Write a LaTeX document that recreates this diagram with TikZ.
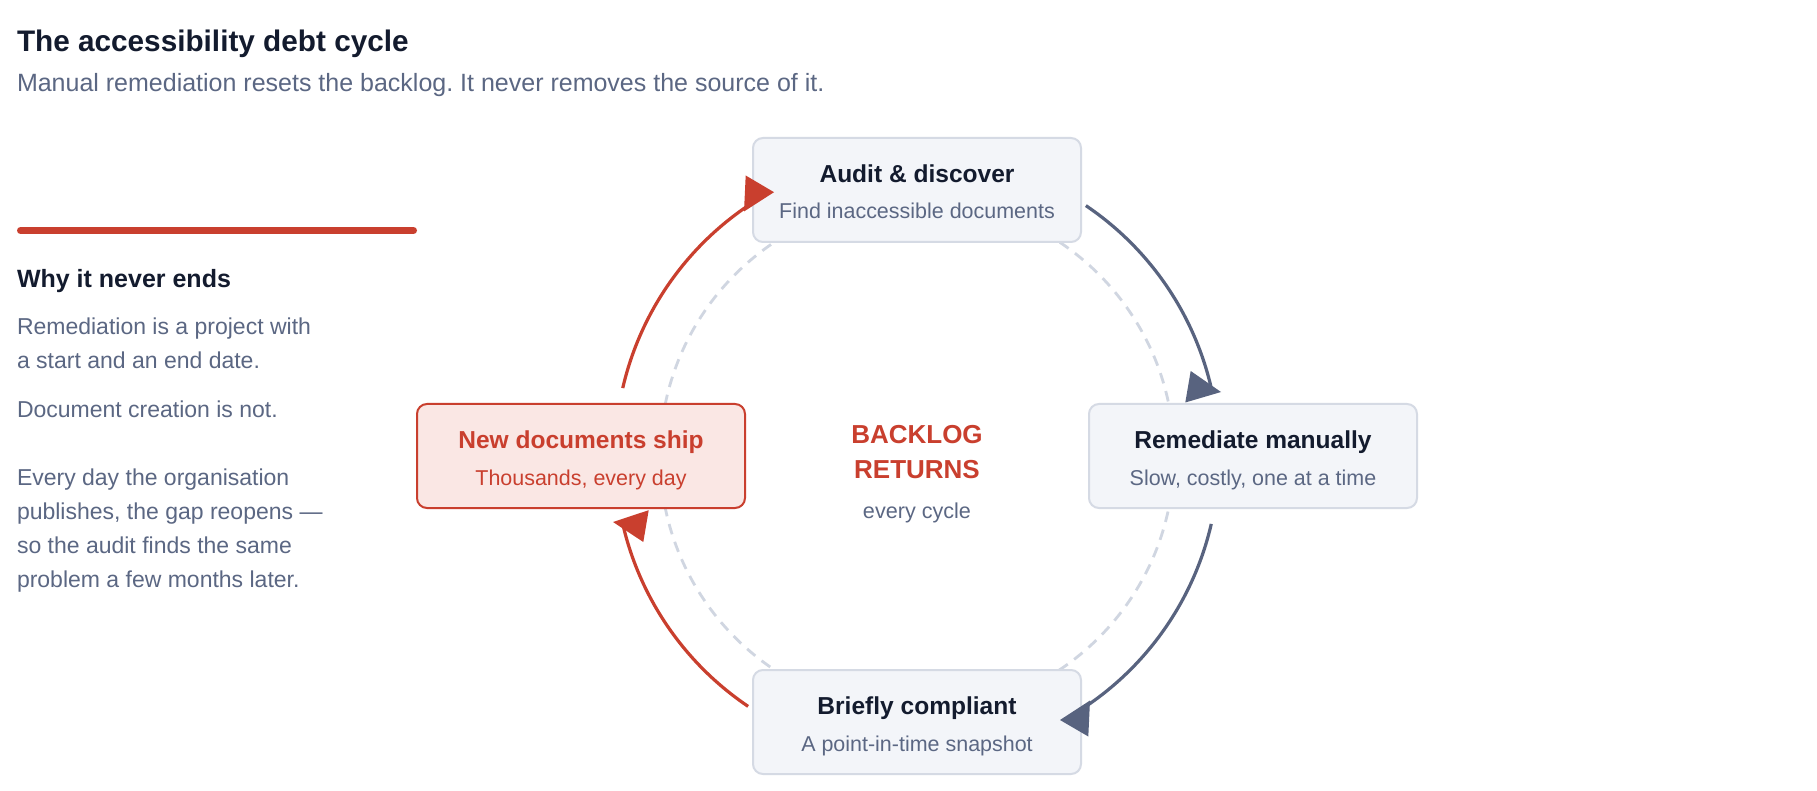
\documentclass[tikz,border=0pt]{standalone}
\usepackage{fontspec}
\setmainfont{Liberation Sans}
\usetikzlibrary{calc}
\definecolor{ink}{HTML}{131B2E}
\definecolor{slatetext}{HTML}{5B6783}
\definecolor{slatearrow}{HTML}{58637F}
\definecolor{accent}{HTML}{C93F2E}
\definecolor{accentfill}{HTML}{FAE7E4}
\definecolor{boxfill}{HTML}{F3F5F9}
\definecolor{boxline}{HTML}{D5DAE4}
\definecolor{ringline}{HTML}{D0D6E1}
\tikzset{
  stagebox/.style={draw=boxline, fill=boxfill, line width=1.5pt, rounded corners=7.5pt,
    minimum width=246pt, minimum height=78pt, inner sep=0pt},
  hotbox/.style={stagebox, draw=accent, fill=accentfill},
  txt/.style={inner sep=0pt, outer sep=0pt, anchor=base},
  ltxt/.style={inner sep=0pt, outer sep=0pt, anchor=base west},
  stagetitle/.style={txt, text=ink, font=\bfseries\fontsize{18.4pt}{22pt}\selectfont},
  stagesub/.style={txt, text=slatetext, font=\fontsize{16.1pt}{20pt}\selectfont},
  bodytxt/.style={ltxt, text=slatetext, font=\fontsize{17.25pt}{21pt}\selectfont},
  flowslate/.style={draw=slatearrow, line width=2.4pt},
  flowred/.style={draw=accent, line width=2.4pt},
}
\begin{document}
\frenchspacing
\begin{tikzpicture}[x=0.75pt,y=-0.75pt]
\useasboundingbox (0,0) rectangle (1817,791);
\fill[white] (0,0) rectangle (1817,791);

% header
\node[ltxt, text=ink, font=\bfseries\fontsize{22.3pt}{26pt}\selectfont] (title) at (17,52) {The accessibility debt cycle};
\node[ltxt, text=slatetext, font=\fontsize{18.75pt}{22pt}\selectfont] (subtitle) at (17,92) {Manual remediation resets the backlog. It never removes the source of it.};

% left panel
\draw[accent, line width=5.25pt, line cap=round] (20.5,230.5) -- (413.5,230.5);
\node[ltxt, text=ink, font=\bfseries\fontsize{18.75pt}{22pt}\selectfont] (why) at (17,288) {Why it never ends};
\node[bodytxt] (p1a) at (17,335) {Remediation is a project with};
\node[bodytxt] (p1b) at (17,369) {a start and an end date.};
\node[bodytxt] (p2) at (17,417) {Document creation is not.};
\node[bodytxt] (p3a) at (17,485) {Every day the organisation};
\node[bodytxt] (p3b) at (17,519) {publishes, the gap reopens ---};
\node[bodytxt] (p3c) at (17,553) {so the audit finds the same};
\node[bodytxt] (p3d) at (17,587) {problem a few months later.};

% cycle
\coordinate (c) at (917,456);
\draw[ringline, line width=2.1pt, dash pattern=on 8pt off 6pt] (c) circle[radius=257];

\node[stagebox] (audit) at (917,190) {};
\node[stagebox] (remed) at (1253,456) {};
\node[stagebox] (brief) at (917,722) {};
\node[hotbox] (newdoc) at (581,456) {};

\node[stagetitle] (auditT) at ($(audit.center)+(0,-7.5)$) {Audit \& discover};
\node[stagesub] (auditS) at ($(audit.center)+(0,29)$) {Find inaccessible documents};
\node[stagetitle] (remedT) at ($(remed.center)+(0,-7.5)$) {Remediate manually};
\node[stagesub] (remedS) at ($(remed.center)+(0,29)$) {Slow, costly, one at a time};
\node[stagetitle] (briefT) at ($(brief.center)+(0,-7.5)$) {Briefly compliant};
\node[stagesub] (briefS) at ($(brief.center)+(0,29)$) {A point-in-time snapshot};
\node[stagetitle, text=accent] (newT) at ($(newdoc.center)+(0,-7.5)$) {New documents ship};
\node[stagesub, text=accent] (newS) at ($(newdoc.center)+(0,29)$) {Thousands, every day};

% centre label
\node[txt, text=accent, font=\bfseries\fontsize{19.5pt}{23pt}\selectfont] (bl1) at (917,443.5) {BACKLOG};
\node[txt, text=accent, font=\bfseries\fontsize{19.5pt}{23pt}\selectfont] (bl2) at (917,479) {RETURNS};
\node[txt, text=slatetext, font=\fontsize{16.2pt}{20pt}\selectfont] (bl3) at (917,518.5) {every cycle};

% connectors (arcs around the centre) and their heads
\draw[flowslate] (c) ++(-56:302) arc[start angle=-56, end angle=-13, radius=302];
\fill[slatearrow] (1190.7,371) -- (1221,392) -- (1185.3,402.5) -- cycle;
\draw[flowslate] (c) ++(13:302) arc[start angle=13, end angle=56, radius=302];
\fill[slatearrow] (1088.3,736.5) -- (1060,720) -- (1090,700.5) -- cycle;
\draw[flowred] (c) ++(124:302) arc[start angle=124, end angle=167, radius=302];
\fill[accent] (643.3,542) -- (613,522) -- (648.7,510.2) -- cycle;
\draw[flowred] (c) ++(193:302) arc[start angle=193, end angle=236, radius=302];
\fill[accent] (745.7,175.5) -- (774,192.2) -- (744,211.5) -- cycle;
\end{tikzpicture}
\end{document}
